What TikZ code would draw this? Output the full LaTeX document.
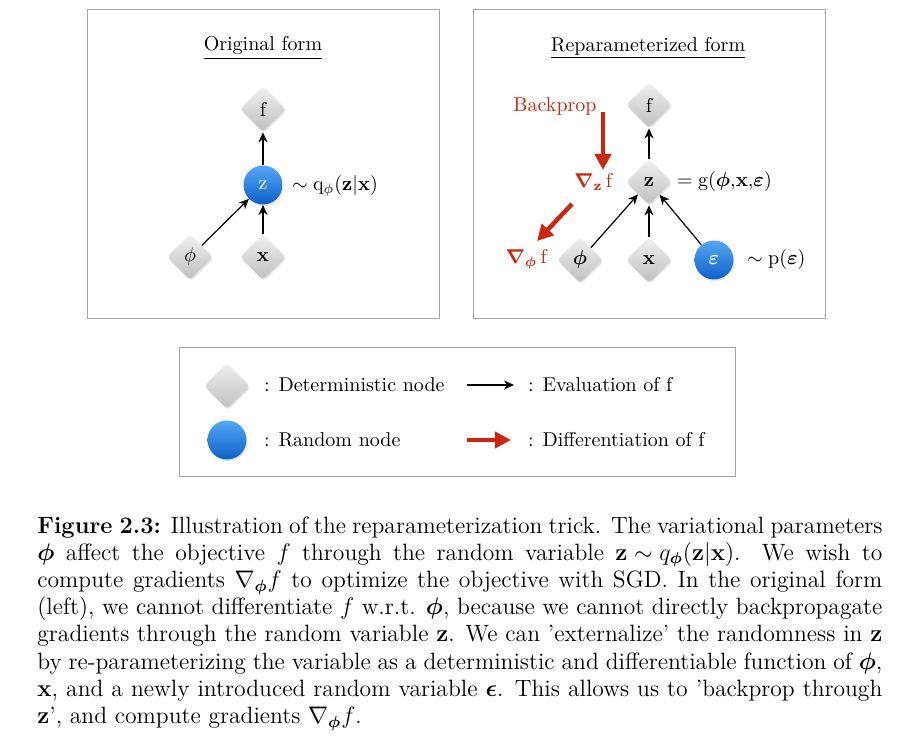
\documentclass[tikz,border=0pt]{standalone}
\usepackage{amsmath,amssymb,bm}
\usetikzlibrary{shapes.geometric,arrows.meta,shadows,positioning}
\definecolor{backred}{rgb}{0.80,0.15,0.05}
\definecolor{bluetop}{rgb}{0.33,0.66,0.96}
\definecolor{bluebot}{rgb}{0.05,0.38,0.78}
\tikzstyle{det} = [diamond, minimum width=23pt, minimum height=23pt, inner sep=0pt, rounded corners=2pt, top color=black!6, bottom color=black!25, drop shadow={opacity=0.2, shadow xshift=0.5pt, shadow yshift=-0.8pt}]
\tikzstyle{rnd} = [circle, minimum size=19.5pt, inner sep=0pt, top color=bluetop, bottom color=bluebot, text=white, drop shadow={opacity=0.2, shadow xshift=0.5pt, shadow yshift=-0.8pt}]
\tikzstyle{eval} = [-{Stealth[length=5pt,width=4.5pt]}, line width=0.6pt]
\tikzstyle{diff} = [-{Triangle[length=8pt,width=8pt]}, line width=2.2pt, draw=backred]
\tikzstyle{panel} = [draw=black!35, line width=0.5pt]
\newcommand{\capline}[1]{\makebox[\linewidth][s]{#1}\\}

\begin{document}
\begin{tikzpicture}[x=0.5pt,y=-0.5pt]
\useasboundingbox (0,0) rectangle (920,748);
% panels
\draw[panel] (87,10) rectangle (439,319);
\draw[panel] (473,10) rectangle (825,319);
\draw[panel] (179,348) rectangle (735,476);
%
% original form
\node (tL) at (263,48) {\underline{Original form}};
\node[det] (fL) at (263,109) {f};
\node[rnd] (zL) at (263,185) {z};
\node[det] (phiL) at (190,257) {$\phi$};
\node[det] (xL) at (263,257) {$\mathbf{x}$};
\node[anchor=west] (qL) at (285,186) {$\sim\mathrm{q}_{\phi}(\mathbf{z}|\mathbf{x})$};
\draw[eval] (zL)--(fL);
\draw[eval] (phiL)--(zL);
\draw[eval] (xL)--(zL);
%
% reparameterized form
\node (tR) at (648,48) {\underline{Reparameterized form}};
\node[det] (fR) at (649,105) {f};
\node[det] (zR) at (649,182) {$\mathbf{z}$};
\node[det] (phiR) at (580,260) {$\bm{\phi}$};
\node[det] (xR) at (649,260) {$\mathbf{x}$};
\node[rnd] (epsR) at (714,260) {$\bm{\varepsilon}$};
\node[anchor=west] (gR) at (670,182) {$=\mathrm{g}(\bm{\phi}{,}\mathbf{x}{,}\bm{\varepsilon})$};
\node[anchor=west] (pR) at (740,260) {$\sim\mathrm{p}(\bm{\varepsilon})$};
\draw[eval] (zR)--(fR);
\draw[eval] (phiR)--(zR);
\draw[eval] (xR)--(zR);
\draw[eval] (epsR)--(zR);
\node[text=backred] (bp) at (555,107) {Backprop};
\node[text=backred] (gz) at (594,182) {$\bm{\nabla}_{\mathbf{z}}\,\mathrm{f}$};
\node[text=backred] (gphi) at (527,259) {$\bm{\nabla}_{\bm{\phi}}\,\mathrm{f}$};
\coordinate (bpA) at (603,112);
\coordinate (bpB) at (603,170);
\draw[diff] (bpA)--(bpB);
\coordinate (gdA) at (572,204);
\coordinate (gdB) at (537,241);
\draw[diff] (gdA)--(gdB);
%
% legend
\node[det] (ldet) at (227,386) {};
\node[rnd] (lrnd) at (227,440) {};
\node[anchor=west] (tdet) at (257,385) {: Deterministic node};
\node[anchor=west] (trnd) at (257,440) {: Random node};
\coordinate (leA) at (467,385);
\coordinate (leB) at (514,385);
\draw[eval] (leA)--(leB);
\coordinate (ldA) at (467,440);
\coordinate (ldB) at (511,440);
\draw[diff] (ldA)--(ldB);
\node[anchor=west] (tev) at (521,385) {: Evaluation of f};
\node[anchor=west] (tdf) at (521,440) {: Differentiation of f};
%
% caption
\node[anchor=north west, text width=422.5pt, align=left, inner sep=0pt, font=\fontsize{11.8}{13.6}\selectfont] (cap) at (37,516) {%
\spaceskip=0pt \xspaceskip=0pt \thickmuskip=5mu \medmuskip=4mu
\capline{\textbf{Figure 2.3:} Illustration of the reparameterization trick. The variational parameters}
\capline{$\bm{\phi}$ affect the objective $f$ through the random variable $\mathbf{z}\sim q_{\bm{\phi}}(\mathbf{z}|\mathbf{x})$. We wish to}
\capline{compute gradients $\nabla_{\bm{\phi}}f$ to optimize the objective with SGD. In the original form}
\capline{(left), we cannot differentiate $f$ w.r.t. $\bm{\phi}$, because we cannot directly backpropagate}
\capline{gradients through the random variable $\mathbf{z}$. We can 'externalize' the randomness in $\mathbf{z}$}
\capline{by re-parameterizing the variable as a deterministic and differentiable function of $\bm{\phi}$,}
\capline{$\mathbf{x}$, and a newly introduced random variable $\bm{\epsilon}$. This allows us to 'backprop through}
$\mathbf{z}$', and compute gradients $\nabla_{\bm{\phi}}f$.};
\end{tikzpicture}
\end{document}
